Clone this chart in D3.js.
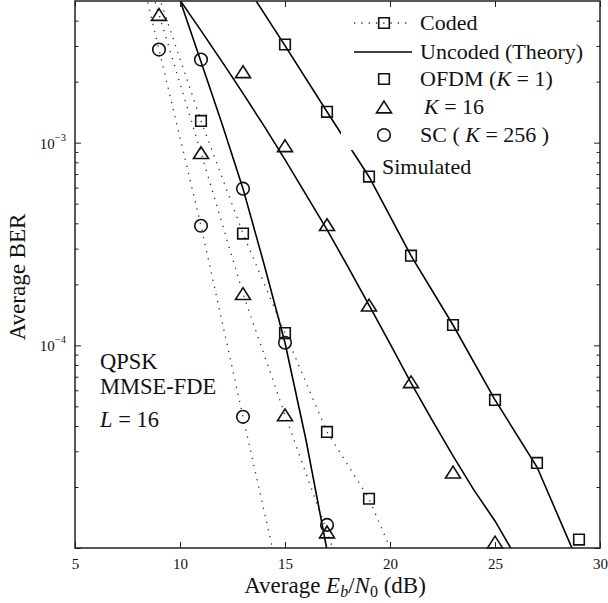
<!DOCTYPE html>
<html>
<head>
<meta charset="utf-8">
<script src="https://cdn.jsdelivr.net/npm/d3@7"></script>
<style>
  body { margin: 0; background: #fff; }
  svg { font-family: "Liberation Serif", "DejaVu Serif", serif; }
</style>
</head>
<body>
<div id="chart"></div>
<script>
// Axis ticks
const xTicks = [5, 10, 15, 20, 25, 30];
const yMajorTicks = [1e-5, 1e-4, 1e-3];
const yMinorTicks = [2e-5, 3e-5, 4e-5, 5e-5, 6e-5, 7e-5, 8e-5, 9e-5,
                     2e-4, 3e-4, 4e-4, 5e-4, 6e-4, 7e-4, 8e-4, 9e-4,
                     2e-3, 3e-3, 4e-3];
const yTickLabels = [[1e-3, "−3"], [1e-4, "−4"]];

// Coded (dotted, simulated)
const codedOfdmSnr = [9, 11, 13, 15, 17, 19, 21];
const codedOfdmBer = [5.26e-3, 1.28e-3, 3.56e-4, 1.15e-4, 3.74e-5, 1.75e-5, 5.73e-6];
const codedK16Snr  = [7, 9, 11, 13, 15, 17, 19];
const codedK16Ber  = [2.06e-2, 4.29e-3, 8.93e-4, 1.80e-4, 4.54e-5, 1.20e-5, 3.13e-6];
const codedScSnr   = [7, 9, 11, 13, 15];
const codedScBer   = [2.1e-2, 2.88e-3, 3.89e-4, 4.44e-5, 5.28e-6];

// Uncoded theory (solid)
const ofdmTheorySnr = [13, 15, 17, 19, 21, 23, 25, 27, 29];
const ofdmTheoryBer = [6.3e-3, 3.01e-3, 1.42e-3, 6.79e-4, 2.77e-4, 1.26e-4, 5.38e-5, 2.51e-5, 8.3e-6];
const k16TheorySnr  = [10, 11, 12, 13, 14, 15, 16, 17, 18, 19, 20, 21, 22, 23, 24, 25, 26];
const k16TheoryBer  = [5.05e-3, 3.57e-3, 2.51e-3, 1.75e-3, 1.21e-3, 8.24e-4, 5.54e-4, 3.72e-4, 2.44e-4,
                       1.58e-4, 1.02e-4, 6.53e-5, 4.29e-5, 2.85e-5, 1.93e-5, 1.36e-5, 9.0e-6];
const scTheorySnr   = [10, 11, 12, 13, 14, 15, 16, 17];
const scTheoryBer   = [5.05e-3, 2.51e-3, 1.24e-3, 5.93e-4, 2.52e-4, 1.03e-4, 3.41e-5, 9.77e-6];

// Uncoded simulated (markers only)
const ofdmSimSnr = [15, 17, 19, 21, 23, 25, 27, 29];
const ofdmSimBer = [3.05e-3, 1.42e-3, 6.8e-4, 2.77e-4, 1.26e-4, 5.38e-5, 2.63e-5, 1.10e-5];
const k16SimSnr  = [13, 15, 17, 19, 21, 23, 25];
const k16SimBer  = [2.24e-3, 9.66e-4, 3.94e-4, 1.58e-4, 6.61e-5, 2.37e-5, 1.07e-5];
const scSimSnr   = [11, 13, 15, 17];
const scSimBer   = [2.57e-3, 5.93e-4, 1.03e-4, 1.30e-5];

const width = 608, height = 603;
const margin = {top: 1, right: 8, bottom: 55, left: 75};
const xDomain = [5, 30], yDomain = [1e-5, 5e-3];

const svg = d3.select("#chart").append("svg")
    .attr("width", width)
    .attr("height", height);

const x = d3.scaleLinear().domain(xDomain).range([margin.left, width - margin.right]);
const y = d3.scaleLog().domain(yDomain).range([height - margin.bottom, margin.top]);

svg.append("defs").append("clipPath").attr("id", "plot")
  .append("rect")
    .attr("x", x(5)).attr("y", y(5e-3))
    .attr("width", x(30) - x(5)).attr("height", y(1e-5) - y(5e-3));

const zip = (a, b) => a.map((v, i) => [v, b[i]]);
const inside = d => d[0] >= xDomain[0] && d[0] <= xDomain[1] && d[1] >= yDomain[0] && d[1] <= yDomain[1];

const line = d3.line().x(d => x(d[0])).y(d => y(d[1]));

// Marker shapes
const markers = {
  square:   "M-5.3,-5.3H5.3V5.3H-5.3Z",
  triangle: "M0,-5.9L7.5,5.9H-7.5Z",
  circle:   d3.arc()({innerRadius: 0, outerRadius: 6.3, startAngle: 0, endAngle: 2 * Math.PI})
};

const plot = svg.append("g").attr("clip-path", "url(#plot)");

// Dotted coded curves
[[codedOfdmSnr, codedOfdmBer], [codedK16Snr, codedK16Ber], [codedScSnr, codedScBer]].forEach(s => {
  plot.append("path")
      .attr("d", line(zip(s[0], s[1])))
      .attr("fill", "none")
      .attr("stroke", "#333")
      .attr("stroke-width", 1.3)
      .attr("stroke-dasharray", "1.3,6");
});

// Solid theory curves
[[ofdmTheorySnr, ofdmTheoryBer], [k16TheorySnr, k16TheoryBer], [scTheorySnr, scTheoryBer]].forEach(s => {
  plot.append("path")
      .attr("d", line(zip(s[0], s[1])))
      .attr("fill", "none")
      .attr("stroke", "#000")
      .attr("stroke-width", 1.6);
});

// Legend background hides what runs under it
svg.append("rect")
    .attr("x", 341).attr("y", margin.top)
    .attr("width", x(30) - 341).attr("height", 149)
    .attr("fill", "#fff");

// Markers
function drawMarkers(snr, ber, shape) {
  svg.append("g").selectAll("path")
    .data(zip(snr, ber).filter(inside))
    .join("path")
      .attr("transform", d => `translate(${x(d[0])},${y(d[1])})`)
      .attr("d", markers[shape])
      .attr("fill", "none")
      .attr("stroke", "#111")
      .attr("stroke-width", 1.6);
}
drawMarkers(codedOfdmSnr, codedOfdmBer, "square");
drawMarkers(codedK16Snr, codedK16Ber, "triangle");
drawMarkers(codedScSnr, codedScBer, "circle");
drawMarkers(ofdmSimSnr, ofdmSimBer, "square");
drawMarkers(k16SimSnr, k16SimBer, "triangle");
drawMarkers(scSimSnr, scSimBer, "circle");

// Axes (inward ticks, MATLAB style)
function styleAxis(g) {
  g.select(".domain").remove();
  g.selectAll(".tick line").attr("stroke", "#222").attr("stroke-width", 1);
}
svg.append("g").attr("transform", `translate(0,${y(1e-5)})`)
    .call(d3.axisBottom(x).tickValues(xTicks).tickSize(-6).tickPadding(10).tickFormat(d3.format("d")))
    .call(styleAxis)
    .call(g => g.selectAll("text").attr("font-size", 15).attr("font-family", "Liberation Serif, serif").attr("fill", "#111"));
svg.append("g").attr("transform", `translate(0,${y(5e-3)})`)
    .call(d3.axisTop(x).tickValues(xTicks).tickSize(-6).tickFormat(""))
    .call(styleAxis);
svg.append("g").attr("transform", `translate(${x(5)},0)`)
    .call(d3.axisLeft(y).tickValues(yMajorTicks).tickSize(-6).tickFormat(""))
    .call(styleAxis);
svg.append("g").attr("transform", `translate(${x(5)},0)`)
    .call(d3.axisLeft(y).tickValues(yMinorTicks).tickSize(-3.5).tickFormat(""))
    .call(styleAxis);
svg.append("g").attr("transform", `translate(${x(30)},0)`)
    .call(d3.axisRight(y).tickValues(yMajorTicks).tickSize(-6).tickFormat(""))
    .call(styleAxis);
svg.append("g").attr("transform", `translate(${x(30)},0)`)
    .call(d3.axisRight(y).tickValues(yMinorTicks).tickSize(-3.5).tickFormat(""))
    .call(styleAxis);

// Frame
svg.append("rect")
    .attr("x", x(5)).attr("y", y(5e-3))
    .attr("width", x(30) - x(5)).attr("height", y(1e-5) - y(5e-3))
    .attr("fill", "none").attr("stroke", "#222").attr("stroke-width", 1.5);

// Y tick labels 10^-n
yTickLabels.forEach(([v, e]) => {
  const t = svg.append("text")
      .attr("x", x(5) - 9).attr("y", y(v) + 6)
      .attr("text-anchor", "end")
      .attr("font-size", 15).attr("fill", "#111");
  t.append("tspan").text("10");
  t.append("tspan").attr("font-size", 10.5).attr("dy", -8).text(e);
});

// Axis titles
svg.append("text")
    .attr("transform", `translate(25,277) rotate(-90)`)
    .attr("text-anchor", "middle")
    .attr("font-size", 23).attr("fill", "#111")
    .text("Average BER");

const xt = svg.append("text")
    .attr("x", 335).attr("y", 593)
    .attr("text-anchor", "middle")
    .attr("font-size", 23).attr("fill", "#111");
xt.append("tspan").text("Average ");
xt.append("tspan").attr("font-style", "italic").text("E");
xt.append("tspan").attr("font-style", "italic").attr("font-size", 16).attr("dy", 4).text("b");
xt.append("tspan").attr("dy", -4).text("/");
xt.append("tspan").attr("font-style", "italic").text("N");
xt.append("tspan").attr("font-size", 16).attr("dy", 4).text("0");
xt.append("tspan").attr("dy", -4).text(" (dB)");

// Annotation
const note = svg.append("g").attr("font-size", 22.5).attr("fill", "#111");
note.append("text").attr("x", 100).attr("y", 369).text("QPSK");
note.append("text").attr("x", 100).attr("y", 394).text("MMSE-FDE");
const lt = note.append("text").attr("x", 100).attr("y", 427);
lt.append("tspan").attr("font-style", "italic").text("L");
lt.append("tspan").text(" = 16");

// Legend
const lg = svg.append("g").attr("font-size", 22).attr("fill", "#111");
const lx0 = 354, lx1 = 412, lmx = 384, ltx = 420;
const rowY = [23, 52, 79, 107, 135];

lg.append("line").attr("x1", lx0).attr("x2", lx1).attr("y1", rowY[0]).attr("y2", rowY[0])
    .attr("stroke", "#333").attr("stroke-width", 1.3).attr("stroke-dasharray", "1.3,6");
lg.append("path").attr("transform", `translate(${lmx},${rowY[0]})`).attr("d", markers.square)
    .attr("fill", "none").attr("stroke", "#111").attr("stroke-width", 1.6);
lg.append("text").attr("x", ltx).attr("y", rowY[0] + 7).text("Coded");

lg.append("line").attr("x1", lx0).attr("x2", lx1).attr("y1", rowY[1]).attr("y2", rowY[1])
    .attr("stroke", "#000").attr("stroke-width", 1.6);
lg.append("text").attr("x", ltx).attr("y", rowY[1] + 7).text("Uncoded (Theory)");

lg.append("path").attr("transform", `translate(${lmx},${rowY[2]})`).attr("d", markers.square)
    .attr("fill", "none").attr("stroke", "#111").attr("stroke-width", 1.6);
const t3 = lg.append("text").attr("x", ltx).attr("y", rowY[2] + 7);
t3.append("tspan").text("OFDM (");
t3.append("tspan").attr("font-style", "italic").text("K");
t3.append("tspan").text(" = 1)");

lg.append("path").attr("transform", `translate(${lmx},${rowY[3]})`).attr("d", markers.triangle)
    .attr("fill", "none").attr("stroke", "#111").attr("stroke-width", 1.6);
const t4 = lg.append("text").attr("x", ltx + 4).attr("y", rowY[3] + 7);
t4.append("tspan").attr("font-style", "italic").text("K");
t4.append("tspan").text(" = 16");

lg.append("path").attr("transform", `translate(${lmx},${rowY[4]})`).attr("d", markers.circle)
    .attr("fill", "none").attr("stroke", "#111").attr("stroke-width", 1.6);
const t5 = lg.append("text").attr("x", ltx).attr("y", rowY[4] + 7);
t5.append("tspan").text("SC ( ");
t5.append("tspan").attr("font-style", "italic").text("K");
t5.append("tspan").text(" = 256 )");

lg.append("text").attr("x", 382).attr("y", 174).text("Simulated");
</script>
</body>
</html>
